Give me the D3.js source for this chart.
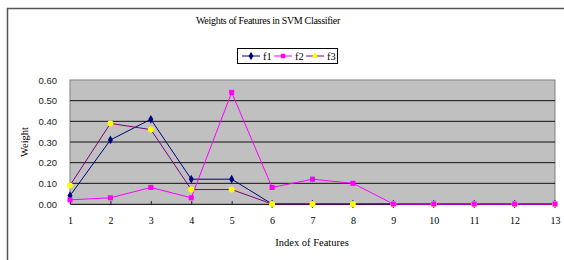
<!DOCTYPE html>
<html><head><meta charset="utf-8">
<script src="https://cdn.jsdelivr.net/npm/d3@7"></script>
<style>body{margin:0;background:#fff}svg{display:block}</style>
</head><body>
<svg id="c" width="564" height="260"></svg>
<script>
const categories = [1,2,3,4,5,6,7,8,9,10,11,12,13];
const f1 = [0.04,0.31,0.41,0.12,0.12,0,0,0,0,0,0,0,0];
const f2 = [0.02,0.03,0.08,0.03,0.54,0.08,0.12,0.10,0,0,0,0,0];
const f3 = [0.09,0.39,0.36,0.07,0.07,0,0,0,0,0,0,0,0];
const yTicks = [0,0.1,0.2,0.3,0.4,0.5,0.6];
const seriesNames = ["f1","f2","f3"];

const svg = d3.select("#c");
svg.append("rect").attr("x",7.5).attr("y",8.5).attr("width",580).attr("height",270)
  .attr("fill","#fff").attr("stroke","#555").attr("stroke-width",1.5);

const x = d3.scaleLinear().domain([1,13]).range([70,555]);
const y = d3.scaleLinear().domain([0,0.6]).range([204,80]);

svg.append("rect").attr("x",70).attr("y",80).attr("width",485).attr("height",124)
  .attr("fill","#c0c0c0").attr("stroke","#808080");

svg.append("g").selectAll("line").data(yTicks.filter(d=>d>0&&d<0.6)).join("line")
  .attr("x1",70).attr("x2",555).attr("y1",d=>y(d)).attr("y2",d=>y(d))
  .attr("stroke","#111").attr("stroke-width",1);

const ya = svg.append("g").attr("transform","translate(70,0)")
  .call(d3.axisLeft(y).tickValues(yTicks).tickFormat(d3.format(".2f")).tickSize(0).tickPadding(13));
ya.select(".domain").remove();
ya.selectAll("text").attr("font-family","Arial, Liberation Sans, sans-serif").attr("font-size",9.5).attr("fill","#222");

const xa = svg.append("g").attr("transform","translate(0,204)")
  .call(d3.axisBottom(x).tickValues(categories).tickFormat(d3.format("d")).tickSizeInner(-3).tickSizeOuter(0).tickPadding(13));
xa.select(".domain").attr("stroke","#222");
xa.selectAll(".tick line").attr("stroke","#222");
xa.selectAll("text").attr("font-family","Liberation Serif, Times New Roman, serif").attr("font-size",10).attr("fill","#000");

const series = [
  {name:seriesNames[0], vals:f1, line:"#000080", fill:"#000080", shape:d3.symbolDiamond, size:22},
  {name:seriesNames[2], vals:f3, line:"#800080", fill:"#ffff00", shape:d3.symbolCircle, size:28},
  {name:seriesNames[1], vals:f2, line:"#ff00ff", fill:"#ff00ff", shape:d3.symbolSquare, size:26}
];
const line = d3.line().x((d,i)=>x(categories[i])).y(d=>y(d));
series.forEach(s=>{
  svg.append("path").datum(s.vals).attr("d",line).attr("fill","none").attr("stroke",s.line).attr("stroke-width",1);
});
series.forEach(s=>{
  svg.append("g").selectAll("path").data(s.vals).join("path")
    .attr("transform",(d,i)=>`translate(${x(categories[i])},${y(d)})`)
    .attr("d",d3.symbol().type(s.shape).size(s.size)).attr("fill",s.fill);
});

svg.append("text").attr("x",268).attr("y",24).attr("text-anchor","middle")
  .attr("font-family","Liberation Serif, Times New Roman, serif").attr("font-size",10)
  .attr("letter-spacing",-0.3).text("Weights of Features in SVM Classifier");
svg.append("text").attr("transform","translate(28,142) rotate(-90)").attr("text-anchor","middle")
  .attr("font-family","Liberation Serif, Times New Roman, serif").attr("font-size",10.5).text("Weight");
svg.append("text").attr("x",312).attr("y",246).attr("text-anchor","middle")
  .attr("font-family","Liberation Serif, Times New Roman, serif").attr("font-size",10.5).text("Index of Features");

const lg = svg.append("g");
lg.append("rect").attr("x",237.5).attr("y",48.5).attr("width",100).attr("height",15).attr("fill","#fff").attr("stroke","#000");
const legendItems = [
  {name:seriesNames[0], line:"#000080", fill:"#000080", shape:d3.symbolDiamond, size:20},
  {name:seriesNames[1], line:"#ff00ff", fill:"#ff00ff", shape:d3.symbolSquare, size:20},
  {name:seriesNames[2], line:"#800080", fill:"#ffff00", shape:d3.symbolTriangle, size:20}
];
legendItems.forEach((s,i)=>{
  const x0 = 242 + i*32;
  lg.append("line").attr("x1",x0).attr("x2",x0+18).attr("y1",56).attr("y2",56).attr("stroke",s.line);
  lg.append("path").attr("transform",`translate(${x0+9},56)`).attr("d",d3.symbol().type(s.shape).size(s.size)).attr("fill",s.fill);
  lg.append("text").attr("x",x0+21).attr("y",60).attr("font-family","Liberation Serif, Times New Roman, serif")
    .attr("font-size",10.5).text(s.name);
});
</script>
</body></html>
